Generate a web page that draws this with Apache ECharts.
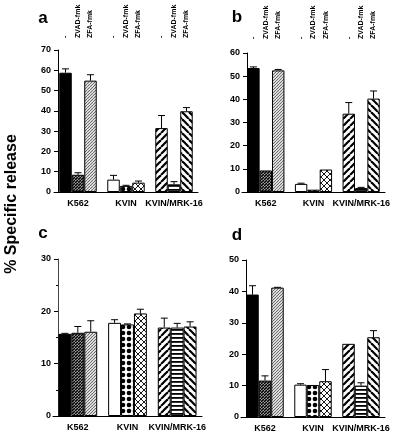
<!DOCTYPE html>
<html>
<head>
<meta charset="utf-8">
<script src="https://cdn.jsdelivr.net/npm/echarts@6/dist/echarts.min.js"></script>
<style>html,body{margin:0;padding:0;background:#fff}#c{width:400px;height:441px}</style>
</head>
<body>
<div id="c"></div>
<script>
// ---- data ----
const categories = ['K562', 'KVIN', 'KVIN/MRK-16'];
const treatments = ['-', 'ZVAD-fmk', 'ZFA-fmk'];
const panelLetters = ['a', 'b', 'c', 'd'];
const yMax = [70, 60, 30, 50];
const yInterval = [10, 10, 10, 10];

const a_none = [58.8, 6.1, 31.5];
const a_zvad = [8.5, 3.0, 3.8];
const a_zfa  = [54.9, 4.6, 39.8];
const a_none_err = [1.9, 2.1, 6.2];
const a_zvad_err = [1.0, 0.3, 1.3];
const a_zfa_err  = [2.9, 0.8, 1.8];

const b_none = [53.5, 3.5, 33.8];
const b_zvad = [9.3, 1.0, 1.7];
const b_zfa  = [52.5, 9.7, 40.3];
const b_none_err = [0.5, 0.3, 4.8];
const b_zvad_err = [0, 0, 0.3];
const b_zfa_err  = [0.4, 0, 3.3];

const c_none = [15.7, 17.8, 16.9];
const c_zvad = [15.9, 17.5, 16.9];
const c_zfa  = [16.1, 19.6, 17.1];
const c_none_err = [0.1, 0.6, 1.8];
const c_zvad_err = [1.2, 0.1, 0.8];
const c_zfa_err  = [2.1, 0.8, 0.9];

const d_none = [39.0, 10.3, 23.3];
const d_zvad = [11.6, 10.2, 10.0];
const d_zfa  = [41.2, 11.4, 25.4];
const d_none_err = [2.8, 0.3, 0];
const d_zvad_err = [1.5, 0, 0.9];
const d_zfa_err  = [0.1, 3.7, 2.1];

const panelValues = [[a_none, a_zvad, a_zfa], [b_none, b_zvad, b_zfa], [c_none, c_zvad, c_zfa], [d_none, d_zvad, d_zfa]];
const panelErrors = [[a_none_err, a_zvad_err, a_zfa_err], [b_none_err, b_zvad_err, b_zfa_err], [c_none_err, c_zvad_err, c_zfa_err], [d_none_err, d_zvad_err, d_zfa_err]];

// ---- patterns ----
function pat(w, h, draw) {
  const c = document.createElement('canvas');
  c.width = w; c.height = h;
  const g = c.getContext('2d');
  g.fillStyle = '#fff'; g.fillRect(0, 0, w, h);
  draw(g, w, h);
  return { image: c, repeat: 'repeat' };
}
function diag(s, lw, col, back) {
  return pat(s, s, (g) => {
    g.strokeStyle = col; g.lineWidth = lw;
    for (const o of [-s, 0, s]) {
      g.beginPath();
      if (back) { g.moveTo(o, 0); g.lineTo(o + s, s); }
      else { g.moveTo(o, s); g.lineTo(o + s, 0); }
      g.stroke();
    }
  });
}
const P = {
  black: '#000',
  darkHatch: diag(3, 1.7, '#000', false),
  lightHatch: diag(3, 1.1, '#666', false),
  white: '#fff',
  dots: pat(6, 6, (g) => { g.fillStyle = '#000'; g.beginPath(); g.arc(3, 3, 2.3, 0, Math.PI * 2); g.fill(); }),
  cross: pat(6, 6, (g) => {
    g.strokeStyle = '#000'; g.lineWidth = 0.9;
    for (const o of [-6, 0, 6]) {
      g.beginPath(); g.moveTo(o, 6); g.lineTo(o + 6, 0); g.stroke();
      g.beginPath(); g.moveTo(o, 0); g.lineTo(o + 6, 6); g.stroke();
    }
  }),
  wideFwd: diag(7, 2.2, '#000', false),
  horiz: pat(4, 4, (g) => { g.fillStyle = '#000'; g.fillRect(0, 1, 4, 1.8); }),
  wideBack: diag(7, 2.2, '#000', true)
};
// fill per [category][treatment]
const fills = [
  [P.black, P.darkHatch, P.lightHatch],
  [P.white, P.dots, P.cross],
  [P.wideFwd, P.horiz, P.wideBack]
];

// ---- layout ----
const grids = [
  { left: 54, top: 50, width: 144, height: 142 },
  { left: 242, top: 53, width: 143, height: 139 },
  { left: 53, top: 259, width: 149, height: 157 },
  { left: 241, top: 260, width: 144, height: 157 }
];
const yOffsets = [-4, -5, -5, -5];
const BAR_FRAC = 0.26;

const font = 'Liberation Sans, Arial, Helvetica, sans-serif';
const option = {
  animation: false,
  backgroundColor: '#fff',
  grid: grids,
  xAxis: grids.map((g, i) => ({
    type: 'category', gridIndex: i, data: categories,
    axisLine: { lineStyle: { color: '#000', width: 1 } },
    axisTick: { show: false },
    axisLabel: { color: '#000', fontFamily: font, fontWeight: 'bold', fontSize: 9, margin: 7, interval: 0 }
  })),
  yAxis: grids.map((g, i) => ({
    type: 'value', gridIndex: i, min: 0, max: yMax[i], interval: yInterval[i],
    offset: yOffsets[i],
    axisLine: { show: true, lineStyle: { color: i === 2 ? '#444' : '#000', width: 1 } },
    axisTick: { show: true, length: 4, lineStyle: { color: '#000' } },
    minorTick: { show: i === 2, splitNumber: 2, length: 2, lineStyle: { color: '#000' } },
    splitLine: { show: false },
    axisLabel: { color: '#000', fontFamily: font, fontWeight: 'bold', fontSize: 9, margin: 7 }
  })),
  series: []
};

for (let p = 0; p < 4; p++) {
  for (let k = 0; k < 3; k++) {
    option.series.push({
      type: 'bar', name: treatments[k], xAxisIndex: p, yAxisIndex: p,
      barWidth: (BAR_FRAC * 100) + '%', barGap: '0%',
      data: panelValues[p][k].map((v, j) => ({
        value: v,
        itemStyle: { color: fills[j][k], borderColor: '#000', borderWidth: 1 }
      }))
    });
  }
  for (let k = 0; k < 3; k++) {
    option.series.push({
      type: 'custom', xAxisIndex: p, yAxisIndex: p, z: 5,
      data: panelValues[p][k].map((v, j) => [j, v, panelErrors[p][k][j]]),
      renderItem: (function (kk) {
        return function (params, api) {
          const cat = api.value(0), v = api.value(1), e = api.value(2);
          if (!(e > 0)) return null;
          const band = api.size([1, 0])[0];
          const bw = band * BAR_FRAC;
          const base = api.coord([cat, v]);
          const top = api.coord([cat, v + e]);
          const x = base[0] + (kk - 1) * bw;
          const st = { stroke: '#000', lineWidth: 1 };
          return {
            type: 'group',
            children: [
              { type: 'line', shape: { x1: x, y1: base[1], x2: x, y2: top[1] }, style: st },
              { type: 'line', shape: { x1: x - 3.5, y1: top[1], x2: x + 3.5, y2: top[1] }, style: st }
            ]
          };
        };
      })(k)
    });
  }
}

const chart = echarts.init(document.getElementById('c'), null, { renderer: 'canvas' });
chart.setOption(option);

// ---- text annotations ----
const graphics = [];
const letterPos = [[43, 18], [237, 17], [43, 233], [237, 235]];
panelLetters.forEach((L, i) => {
  graphics.push({ type: 'text', x: letterPos[i][0], y: letterPos[i][1],
    style: { text: L, font: 'bold 17px ' + font, fill: '#000', align: 'center', verticalAlign: 'middle' } });
});
graphics.push({ type: 'text', x: 12, y: 204, rotation: Math.PI / 2,
  style: { text: '% Specific release', font: 'bold 16px ' + font, fill: '#000', align: 'center', verticalAlign: 'middle' } });

const headerBase = [38, 39];
for (let p = 0; p < 2; p++) {
  categories.forEach((cat, j) => {
    const cx = chart.convertToPixel({ xAxisIndex: p }, cat);
    const band = grids[p].width / categories.length;
    for (let k = 0; k < 3; k++) {
      const x = cx + (k - 1) * band * BAR_FRAC;
      graphics.push({ type: 'text', x: x, y: headerBase[p], rotation: Math.PI / 2,
        style: { text: treatments[k], font: 'bold 7px ' + font, fill: '#000', align: 'left', verticalAlign: 'middle' } });
    }
  });
}
chart.setOption({ graphic: graphics });
</script>
</body>
</html>
